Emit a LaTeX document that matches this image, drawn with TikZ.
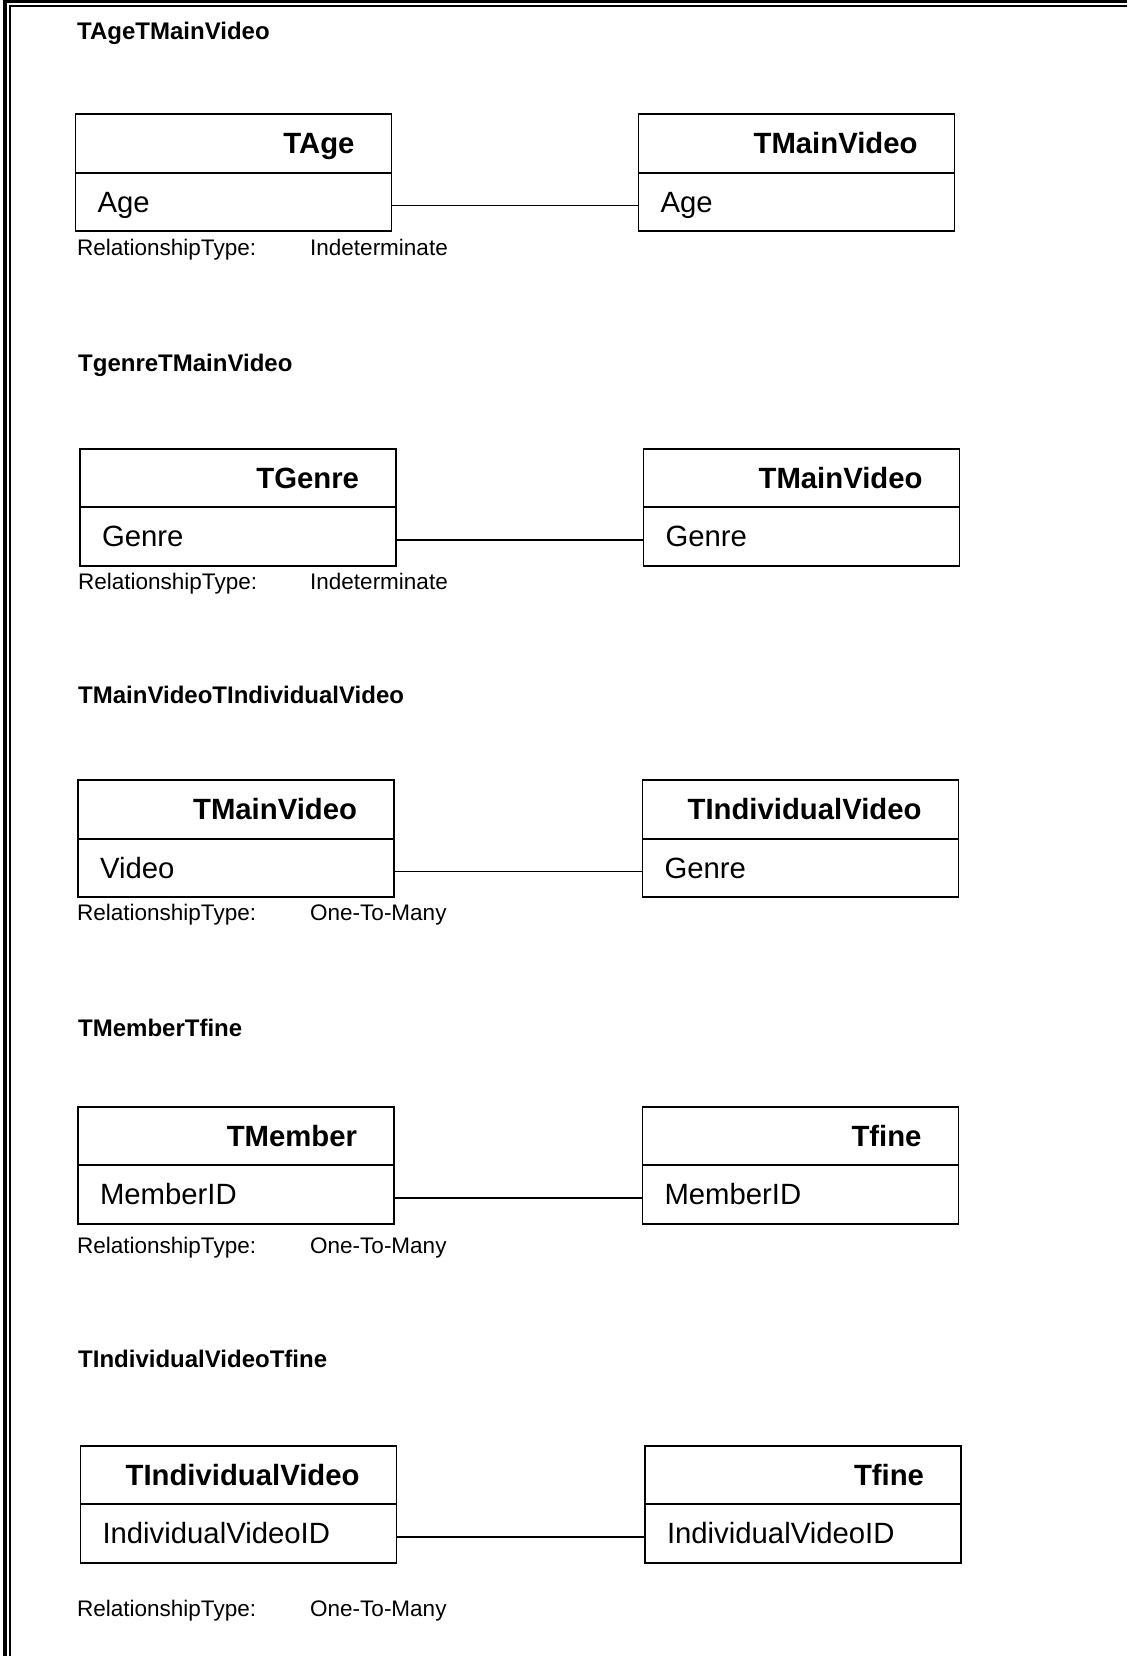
\documentclass[tikz,border=0pt]{standalone}
\usepackage{fontspec}
\setmainfont{Liberation Sans}
\usetikzlibrary{positioning}

\begin{document}
\begin{tikzpicture}[x=1pt, y=-1pt,
    tblhead/.style={draw, line width=1.8pt, outer sep=0pt, minimum height=58.5pt,
                    text width=242pt, inner xsep=37pt, align=right,
                    text height=20.5pt, text depth=0pt, font=\bfseries\fontsize{29.3}{33}\selectfont},
    tblfield/.style={draw, line width=1.8pt, outer sep=0pt, minimum height=58.5pt,
                    text width=272pt, inner xsep=22pt, align=left,
                    text height=20.5pt, text depth=0pt, font=\fontsize{29.3}{33}\selectfont},
    reltitle/.style={anchor=base west, inner sep=0pt, font=\bfseries\fontsize{24}{27}\selectfont},
    reltype/.style={anchor=base west, inner sep=0pt, font=\fontsize{22.5}{25}\selectfont},
    link/.style={line width=1.5pt}
]
\useasboundingbox (0,0) rectangle (1127,1656);
\draw[line width=3.2pt] (5,1656) |- (1127,1.6);
\draw[line width=2pt] (10,1656) |- (1127,6);

\node[reltitle] (title1) at (77,39.5) {TAgeTMainVideo};
\node[tblhead] (tage) at (233.5,143.5) {TAge};
\node[tblfield, below=0pt of tage] (tagef) {Age};
\node[tblhead] (tmv1) at (796.5,143.5) {TMainVideo};
\node[tblfield, below=0pt of tmv1] (tmv1f) {Age};
\draw[link] ([yshift=-3.5pt]tagef.east) -- ([yshift=-3.5pt]tmv1f.west);
\node[reltype] (relk1) at (77,255.5) {RelationshipType:};
\node[reltype] (relv1) at (310,255.5) {Indeterminate};

\node[reltitle] (title2) at (78,371.5) {TgenreTMainVideo};
\node[tblhead] (tgenre) at (238,478) {TGenre};
\node[tblfield, below=0pt of tgenre] (tgenref) {Genre};
\node[tblhead] (tmv2) at (801.5,478) {TMainVideo};
\node[tblfield, below=0pt of tmv2] (tmv2f) {Genre};
\draw[link] ([yshift=-3.5pt]tgenref.east) -- ([yshift=-3.5pt]tmv2f.west);
\node[reltype] (relk2) at (78,589) {RelationshipType:};
\node[reltype] (relv2) at (310,589) {Indeterminate};

\node[reltitle] (title3) at (78,703.5) {TMainVideoTIndividualVideo};
\node[tblhead] (tmv3) at (236,809.5) {TMainVideo};
\node[tblfield, below=0pt of tmv3] (tmv3f) {Video};
\node[tblhead] (tiv3) at (800.5,809.5) {TIndividualVideo};
\node[tblfield, below=0pt of tiv3] (tiv3f) {Genre};
\draw[link] ([yshift=-3.5pt]tmv3f.east) -- ([yshift=-3.5pt]tiv3f.west);
\node[reltype] (relk3) at (77,920.5) {RelationshipType:};
\node[reltype] (relv3) at (310,920.5) {One-To-Many};

\node[reltitle] (title4) at (78,1036) {TMemberTfine};
\node[tblhead] (tmem) at (236,1136) {TMember};
\node[tblfield, below=0pt of tmem] (tmemf) {MemberID};
\node[tblhead] (tfine4) at (800.5,1136) {Tfine};
\node[tblfield, below=0pt of tfine4] (tfine4f) {MemberID};
\draw[link] ([yshift=-3.5pt]tmemf.east) -- ([yshift=-3.5pt]tfine4f.west);
\node[reltype] (relk4) at (77,1253) {RelationshipType:};
\node[reltype] (relv4) at (310,1253) {One-To-Many};

\node[reltitle] (title5) at (78,1367) {TIndividualVideoTfine};
\node[tblhead] (tiv5) at (238.5,1475) {TIndividualVideo};
\node[tblfield, below=0pt of tiv5] (tiv5f) {IndividualVideoID};
\node[tblhead] (tfine5) at (803,1475) {Tfine};
\node[tblfield, below=0pt of tfine5] (tfine5f) {IndividualVideoID};
\draw[link] ([yshift=-3.5pt]tiv5f.east) -- ([yshift=-3.5pt]tfine5f.west);
\node[reltype] (relk5) at (77,1616.5) {RelationshipType:};
\node[reltype] (relv5) at (310,1616.5) {One-To-Many};
\end{tikzpicture}
\end{document}
